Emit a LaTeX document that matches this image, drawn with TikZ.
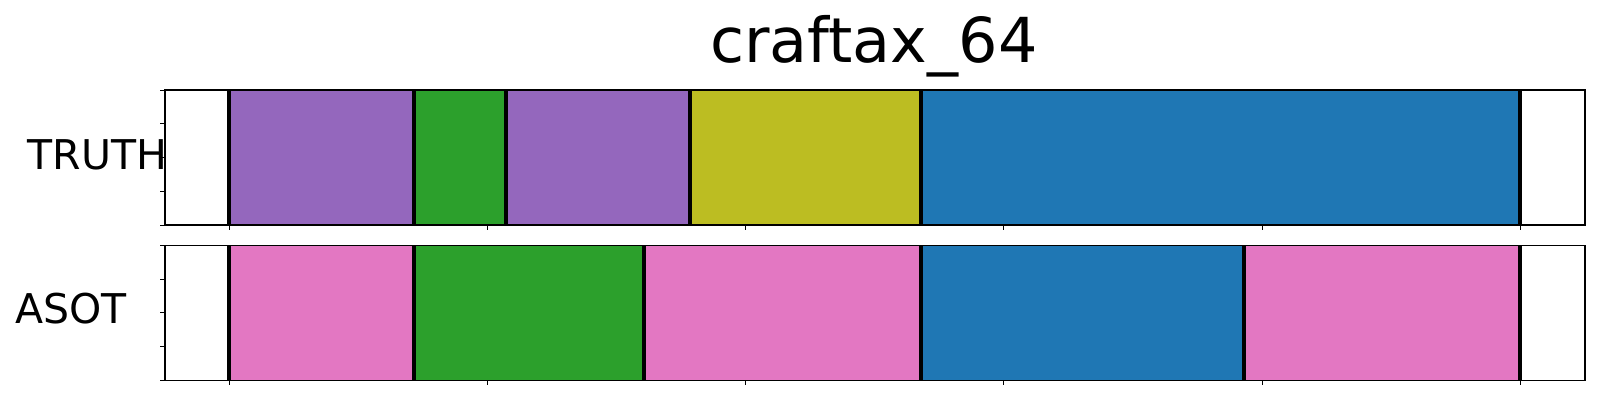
\documentclass[tikz,border=0pt]{standalone}
\usepackage{fontspec}
\setmainfont{DejaVu Sans}
\definecolor{tpurple}{HTML}{9467BD}
\definecolor{tgreen}{HTML}{2CA02C}
\definecolor{tolive}{HTML}{BCBD22}
\definecolor{tblue}{HTML}{1F77B4}
\definecolor{tpink}{HTML}{E377C2}
\tikzset{
  bound/.style={line width=3.9pt,black},
  frame/.style={line width=1.1pt,black},
  tickmark/.style={line width=1pt,black},
  lbl/.style={inner sep=0pt,anchor=base west,font=\fontsize{41}{48}\selectfont},
  ttl/.style={inner sep=0pt,anchor=base west,font=\fontsize{62}{70}\selectfont}
}
\begin{document}
\begin{tikzpicture}[x=1pt,y=-1pt]
\useasboundingbox (0,0) rectangle (1600,400);
% title
\node[ttl] (title) at (710,62.7) {craftax\_64};
% top row (TRUTH)
\fill[tpurple] (229,90) rectangle (414,225);
\fill[tgreen] (414,90) rectangle (505.7,225);
\fill[tpurple] (505.7,90) rectangle (690,225);
\fill[tolive] (690,90) rectangle (921,225);
\fill[tblue] (921,90) rectangle (1520,225);
\foreach \b in {229,414,505.7,690,921,1520} \draw[bound] (\b,90) -- (\b,225);
\draw[frame] (165,90) rectangle (1585,225);
% bottom row (ASOT)
\fill[tpink] (229,245.3) rectangle (414,380.3);
\fill[tgreen] (414,245.3) rectangle (643.7,380.3);
\fill[tpink] (643.7,245.3) rectangle (921,380.3);
\fill[tblue] (921,245.3) rectangle (1244,380.3);
\fill[tpink] (1244,245.3) rectangle (1520,380.3);
\foreach \b in {229,414,643.7,921,1244,1520} \draw[bound] (\b,245.3) -- (\b,380.3);
\draw[frame] (165,245.3) rectangle (1585,380.3);
% ticks
\foreach \k in {0,...,5} {
  \draw[tickmark] ({229+258.3*\k},225) -- ++(0,4.8);
  \draw[tickmark] ({229+258.3*\k},380.3) -- ++(0,4.8);
}
\foreach \k in {0,...,4} {
  \draw[tickmark] (165,{90+33.75*\k}) -- ++(-4.8,0);
  \draw[tickmark] (165,{245.3+33.75*\k}) -- ++(-4.8,0);
}
% labels
\node[lbl] (truth) at (27.5,169.3) {TRUTH};
\node[lbl] (asot) at (15.2,323.3) {ASOT};
\end{tikzpicture}
\end{document}
